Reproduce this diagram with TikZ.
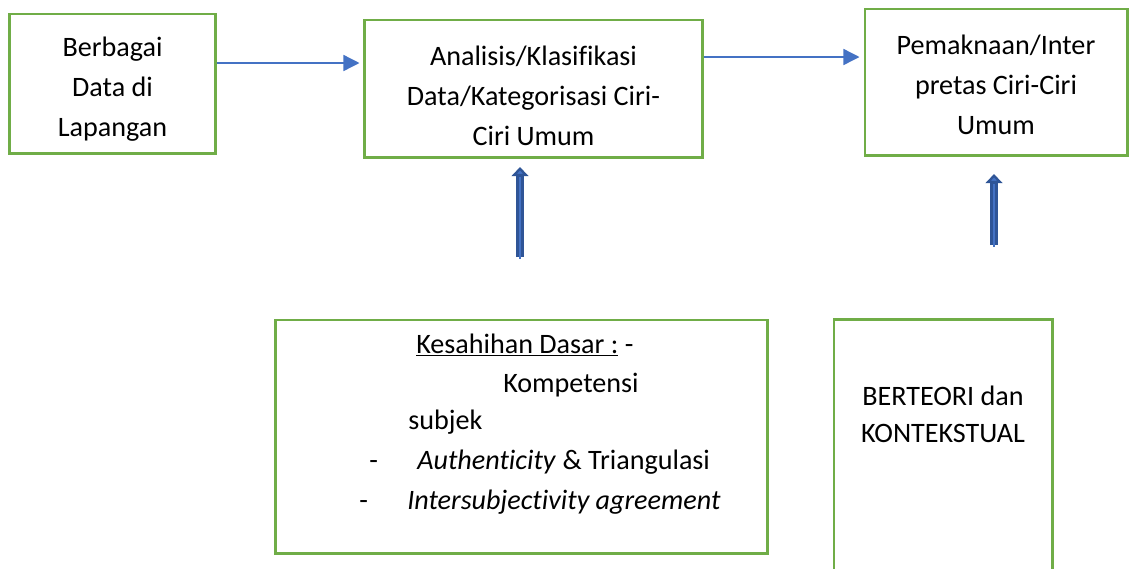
\documentclass[tikz,border=0pt]{standalone}
\usepackage{fontspec}
\setmainfont{Carlito}[Ligatures=NoCommon]
\usetikzlibrary{arrows.meta, positioning}
\definecolor{boxgreen}{HTML}{70AD47}
\definecolor{lineblue}{HTML}{4472C4}
\definecolor{liftdark}{HTML}{2F5597}

\begin{document}
\begin{tikzpicture}[x=0.025cm, y=-0.025cm,
	font=\fontsize{20}{28.5}\selectfont,
	box/.style={draw=boxgreen, line width=2.1pt, inner sep=0pt},
	boxtxt/.style={inner sep=0pt, align=center},
	txt/.style={inner sep=0pt, anchor=base west},
	flow/.style={-{Triangle[length=0.4cm, width=0.4cm]}, draw=lineblue, line width=1pt, shorten >=0.1cm},
	liftouter/.style={-{Triangle[length=0.23cm, width=0.42cm, fill=lineblue]}, draw=liftdark, line width=5.6pt},
	liftinner/.style={draw=lineblue, line width=2pt}]
	
	\clip (0,0) rectangle (1136,568);
	
	% 1. Top row of process boxes
	\node[box, minimum width=5.125cm, minimum height=3.475cm] (data) at (112.5,83.5) {};
	\node[boxtxt] (dataTxt) at (112.5,89.5) {Berbagai\\Data di\\Lapangan};
	\node[box, minimum width=8.425cm, minimum height=3.425cm] (analisis) at (533.5,88.5) {};
	\node[boxtxt] (analisisTxt) at (533.5,95.5) {Analisis/Klasifikasi\\Data/Kategorisasi Ciri-\\Ciri Umum};
	\node[box, minimum width=6.55cm, minimum height=3.65cm] (makna) at (996,82) {};
	\node[boxtxt] (maknaTxt) at (996,85) {Pemaknaan/Inter\\pretas Ciri-Ciri\\Umum};
	
	% Connectors between the boxes
	\coordinate (rowA) at (0,63);
	\coordinate (rowB) at (0,57);
	\draw[flow] (data.east |- rowA) -- (analisis.west |- rowA);
	\draw[flow] (analisis.east |- rowB) -- (makna.west |- rowB);
	
	% 2. Validity box (bottom left)
	\node[box, minimum width=12.275cm, minimum height=5.825cm] (sahih) at (521.5,436.5) {};
	\node[txt] (sahihA) at (416,353) {\underline{Kesahihan Dasar :} -};
	\node[txt] (sahihB) at (503,392) {Kompetensi};
	\node[txt] (sahihC) at (408,429) {subjek};
	\node[txt] (dashA) at (369,469) {-};
	\node[txt] (sahihD) at (417,469) {\textit{Authenticity} \& Triangulasi};
	\node[txt] (dashB) at (359,509) {-};
	\node[txt] (sahihE) at (407,509) {\textit{Intersubjectivity agreement}};
	
	% 3. Theory box (bottom right, runs off the page)
	\node[box, minimum width=5.45cm, minimum height=7.5cm] (teori) at (943,470) {};
	\node[inner sep=0pt, anchor=base] (teoriA) at (943,405) {BERTEORI dan};
	\node[inner sep=0pt, anchor=base] (teoriB) at (943,442) {KONTEKSTUAL};
	
	% 4. Upward block arrows
	\coordinate (liftAbot) at (520,257);
	\coordinate (liftAtop) at (520,167);
	\coordinate (liftBbot) at (994,245);
	\coordinate (liftBtop) at (994,174);
	\draw[liftouter] (liftAbot) -- (liftAtop);
	\draw[liftinner] ([yshift=-0.05cm]liftAbot) -- ([yshift=-0.25cm]liftAtop);
	\draw[liftouter] (liftBbot) -- (liftBtop);
	\draw[liftinner] ([yshift=-0.05cm]liftBbot) -- ([yshift=-0.25cm]liftBtop);
	
\end{tikzpicture}
\end{document}
